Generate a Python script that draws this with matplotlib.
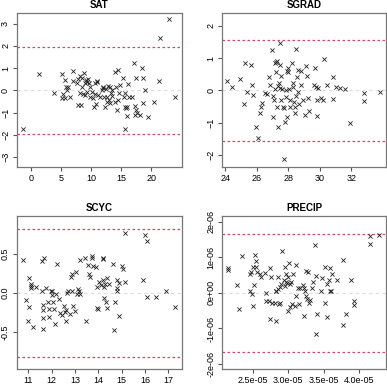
import numpy as np
import matplotlib.pyplot as plt
from matplotlib.ticker import FuncFormatter

plt.rcParams['font.family'] = ['Liberation Sans', 'DejaVu Sans']

# SAT residuals
sat_x = [-1.39, 1.28, 3.83, 5.11, 5.22, 5.67, 5.78, 6.94, 6.94, 6.22, 5.94, 6.5, 5.67, 5.39,
         7.72, 7.89, 8.17, 7.89, 8.28, 8.44, 8.83, 9.0, 9.17, 9.39, 9.56, 9.72, 9.83, 8.61,
         9.0, 8.17, 9.39, 10.11, 10.28, 10.67, 10.67, 10.94, 10.5, 10.83, 11.22, 11.5, 11.78,
         11.94, 12.06, 12.5, 12.61, 12.89, 13.06, 13.17, 13.28, 13.44, 13.17, 12.33, 12.72,
         14.0, 14.56, 14.17, 14.28, 14.56, 14.72, 14.0, 14.83, 15.39, 15.5, 15.67, 15.67,
         15.83, 16.06, 15.67, 15.94, 16.22, 16.39, 16.78, 17.17, 17.5, 17.33, 17.5, 17.61,
         17.28, 18.17, 18.44, 18.61, 18.61, 19.0, 19.39, 20.5, 21.22, 21.39, 22.89, 23.89,
         9.8, 11.0, 12.2, 13.5, 8.5]
sat_y = [-1.76, 0.74, -0.12, 0.74, -0.33, 0.47, 0.14, 0.89, 0.44, 0.14, 0.02, -0.29, -0.36, -0.17,
         0.32, 0.50, 0.65, -0.66, -0.66, 0.14, 0.80, 0.32, 0.47, 0.39, 0.50, 0.32, 0.14, -0.17,
         -0.21, -0.14, -0.06, -0.06, -0.36, -0.17, 0.32, 0.44, -0.77, -0.62, -0.21, -0.29, 0.02,
         0.14, 0.09, 0.05, -0.29, 0.20, -0.44, -0.59, -0.14, -0.26, 0.17, -0.74, -0.51,
         0.84, 0.92, 0.14, -0.89, -0.44, -0.14, -0.51, 0.24, 0.54, -0.32, -0.11, -0.74,
         -0.81, -0.74, -1.76, -1.16, 0.29, -0.29, -0.29, 1.22, 0.54, -0.71, -0.89, -1.04,
         -1.11, -1.11, 0.99, 0.54, -0.56, 0.02, -1.19, -0.51, 0.44, 2.35, 3.22, -0.32,
         -0.30, 0.38, -0.28, 0.02, 0.55]

# SGRAD residuals
sgrad_x = [24.13, 24.45, 24.91, 25.19, 25.23, 25.4, 25.66, 25.72, 25.76, 25.93, 26.08, 26.19,
           26.29, 26.36, 26.51, 26.65, 26.78, 26.87, 26.95, 27.04, 27.0, 27.1, 27.14, 27.14,
           27.21, 27.25, 27.29, 27.31, 27.35, 27.38, 27.42, 27.46, 27.5, 27.5, 27.57, 27.59,
           27.68, 27.72, 27.76, 27.8, 27.84, 27.88, 27.9, 27.94, 27.99, 28.01, 28.06, 28.1,
           28.27, 28.31, 28.35, 28.42, 28.46, 28.48, 28.52, 28.56, 28.59, 28.63, 28.69, 28.78,
           28.84, 28.95, 29.05, 29.12, 29.16, 29.27, 29.33, 29.63, 29.69, 29.75, 29.8, 29.84,
           29.86, 30.11, 30.18, 30.26, 30.48, 30.82, 30.86, 31.03, 31.28, 31.6, 31.92, 32.81,
           32.81, 33.83, 28.1, 28.31, 27.57]
sgrad_y = [0.29, 0.11, 0.36, -0.42, 0.84, -0.04, 0.77, 0.17, -0.14, -1.13, -1.49, -0.69,
           -0.51, -0.38, -0.07, -0.11, 0.40, 0.17, 1.25, -0.18, -0.84, -0.30, 0.03, 0.84,
           0.58, 0.89, 0.92, -0.51, -1.13, 0.13, 0.22, 0.06, 1.46, 0.79, 0.44, 0.03,
           -0.51, -0.56, -2.14, -0.97, 0.01, -0.20, 0.61, -0.82, 0.58, 0.68, 0.03, -0.30,
           0.86, 0.24, -0.35, -0.51, -0.71, -0.18, 1.27, 0.42, 0.63, -0.04, -0.42, 0.61,
           0.17, -0.30, -0.76, 0.75, 0.44, -0.25, -0.64, 0.17, 0.68, 0.09, -0.30, -0.80,
           0.06, -0.25, -0.30, 0.96, 0.17, 0.40, -0.28, 0.09, 0.06, 0.03, -1.0, -0.07,
           -0.32, -0.04, -0.51, 0.11, -0.30]

# SCYC residuals
scyc_x = [10.77, 10.89, 11.03, 11.03, 10.99, 11.09, 11.13, 11.09, 11.2, 11.34, 11.56, 11.56,
          11.66, 11.63, 11.63, 11.63, 11.63, 11.77, 11.85, 11.89, 11.89, 11.95, 11.99, 12.03,
          12.06, 12.09, 12.13, 12.17, 12.23, 12.32, 12.35, 12.46, 12.52, 12.56, 12.6, 12.63,
          12.66, 12.7, 12.78, 12.81, 12.85, 12.85, 12.92, 12.99, 13.03, 13.09, 13.13, 13.18,
          13.23, 13.23, 13.42, 13.46, 13.56, 13.6, 13.62, 13.71, 13.73, 13.78, 13.89, 13.92,
          13.95, 13.99, 14.03, 14.09, 14.18, 14.21, 14.21, 14.24, 14.24, 14.28, 14.32, 14.35,
          14.38, 14.47, 14.64, 14.67, 14.71, 14.78, 14.81, 14.81, 14.9, 14.9, 15.0, 15.04,
          15.14, 15.14, 15.93, 16.0, 16.07, 16.07, 16.47, 16.9, 17.29]
scyc_y = [0.42, -0.09, 0.19, -0.18, -0.36, 0.12, 0.09, 0.06, -0.43, 0.08, 0.03, 0.41,
          0.44, -0.15, -0.22, -0.32, -0.46, 0.06, -0.12, -0.21, -0.31, 0.03, 0.02, -0.03,
          -0.12, -0.21, -0.39, -0.01, 0.37, -0.08, -0.25, -0.28, -0.17, -0.24, -0.22, -0.36,
          0.00, 0.03, -0.27, 0.20, 0.24, 0.02, -0.17, -0.23, 0.27, -0.01, 0.05, 0.02,
          -0.01, 0.42, 0.45, -0.36, 0.36, 0.24, 0.20, 0.47, 0.45, 0.34, 0.33, 0.07,
          -0.19, -0.21, 0.14, 0.10, 0.45, 0.43, 0.16, 0.07, -0.06, 0.12, -0.12, -0.19,
          0.19, 0.11, 0.37, -0.47, -0.12, 0.16, 0.06, 0.03, -0.29, 0.13, 0.34, 0.31,
          0.14, 0.77, 0.16, 0.74, 0.66, -0.05, -0.05, 0.02, -0.18]

# PRECIP residuals (x in 1e-5, y in 1e-6)
precip_x = [2.146, 2.146, 2.278, 2.311, 2.349, 2.453, 2.462, 2.476, 2.491, 2.5, 2.5, 2.509,
            2.524, 2.538, 2.547, 2.557, 2.594, 2.618, 2.665, 2.679, 2.689, 2.726, 2.736, 2.745,
            2.759, 2.774, 2.807, 2.821, 2.821, 2.83, 2.854, 2.854, 2.868, 2.877, 2.887, 2.901,
            2.915, 2.934, 2.948, 2.948, 2.962, 2.972, 2.981, 2.995, 2.995, 3.009, 3.019, 3.028,
            3.042, 3.057, 3.066, 3.09, 3.104, 3.113, 3.137, 3.151, 3.17, 3.208, 3.217, 3.217,
            3.231, 3.245, 3.255, 3.264, 3.278, 3.292, 3.302, 3.34, 3.349, 3.373, 3.387, 3.396,
            3.406, 3.467, 3.481, 3.514, 3.514, 3.547, 3.547, 3.575, 3.585, 3.594, 3.608, 3.623,
            3.689, 3.774, 3.774, 3.821, 3.892, 3.925, 3.925, 4.151, 4.151, 4.283]
precip_y = [0.71, 0.64, 0.22, -0.46, 1.03, 0.06, 0.52, 0.60, -0.02, 0.73, -0.36, 0.21,
            1.08, 0.73, 0.90, 0.60, 0.54, 0.45, 0.57, 0.01, -0.22, -0.22, -0.74, 0.69,
            0.45, -0.27, -0.27, -0.80, 0.06, 0.04, 0.10, 0.45, -0.32, -0.27, 0.17, 0.26,
            1.18, 0.36, 0.73, 0.20, 0.32, 0.54, 0.29, -0.50, 0.45, 0.85, -0.39, 0.26,
            0.32, -0.30, 0.54, -0.36, 0.79, -0.08, 0.13, -0.32, 0.13, 0.22, 0.13, -0.64,
            0.06, -0.08, 0.62, -0.18, 0.60, -0.27, -0.21, 0.13, 0.32, 1.36, -1.16, 0.48,
            -0.58, 0.06, 0.41, 0.73, -0.27, -0.67, 0.26, 0.36, 0.06, 0.69, 0.04, 0.54,
            0.36, 0.93, -0.91, -0.58, 0.36, -0.24, -0.34, 1.38, 1.59, 1.63]


def r_sci(v, pos):
    # R style scientific labels like 1e-06, 0e+00
    if v == 0:
        return '0e+00'
    m, e = ('%e' % v).split('e')
    e = int(e)
    return '%de%s%02d' % (round(float(m)), '-' if e < 0 else '+', abs(e))


def r_sci1(v, pos):
    m, e = ('%.1e' % v).split('e')
    e = int(e)
    return '%se%s%02d' % (m, '-' if e < 0 else '+', abs(e))


fig = plt.figure(figsize=(3.87, 3.88), dpi=100)
boxes = [[0.044, 0.570, 0.426, 0.396], [0.574, 0.570, 0.423, 0.396],
         [0.044, 0.049, 0.426, 0.394], [0.574, 0.049, 0.423, 0.394]]

panels = [
    ('SAT', np.array(sat_x), np.array(sat_y), 1.96, (-2.3, 25.1), (-3.44, 3.47),
     [0, 5, 10, 15, 20], [-3, -2, -1, 0, 1, 2, 3], None, None),
    ('SGRAD', np.array(sgrad_x), np.array(sgrad_y), 1.56, (23.8, 34.2), (-2.37, 2.39),
     [24, 26, 28, 30, 32], [-2, -1, 0, 1, 2], None, None),
    ('SCYC', np.array(scyc_x), np.array(scyc_y), 0.82, (10.51, 17.58), (-0.97, 0.98),
     [11, 12, 13, 14, 15, 16, 17], [-0.5, 0.0, 0.5], None, '%.1f'),
    ('PRECIP', np.array(precip_x) * 1e-5, np.array(precip_y) * 1e-6, 1.65e-6,
     (2.066e-5, 4.377e-5), (-2.14e-6, 2.16e-6),
     [2.5e-5, 3.0e-5, 3.5e-5, 4.0e-5], [-2e-6, -1e-6, 0, 1e-6, 2e-6], r_sci1, r_sci),
]

for box, (name, x, y, lim, xl, yl, xt, yt, xf, yf) in zip(boxes, panels):
    ax = fig.add_axes(box)
    ax.axhline(0, color='#dddddd', ls=(0, (3, 3)), lw=0.8, zorder=1)
    ax.axhline(lim, color='#dd4466', ls=(0, (2, 2)), lw=0.9, zorder=1)
    ax.axhline(-lim, color='#dd4466', ls=(0, (2, 2)), lw=0.9, zorder=1)
    ax.scatter(x, y, marker='x', s=9, c='#222222', linewidths=0.6, zorder=3)
    ax.set_xlim(xl)
    ax.set_ylim(yl)
    ax.set_xticks(xt)
    ax.set_yticks(yt)
    if xf is not None:
        ax.xaxis.set_major_formatter(FuncFormatter(xf))
    if yf is not None:
        if isinstance(yf, str):
            ax.yaxis.set_major_formatter(FuncFormatter(lambda v, p, f=yf: f % v))
        else:
            ax.yaxis.set_major_formatter(FuncFormatter(yf))
    for s in ax.spines.values():
        s.set_color('#777777')
        s.set_linewidth(0.9)
    ax.tick_params(axis='both', length=3, width=0.8, color='#555555',
                   labelsize=6.5, pad=2)
    for lab in ax.get_yticklabels():
        lab.set_rotation(90)
        lab.set_va('center')
    ax.set_title(name, fontsize=7, fontweight='bold', pad=4)

fig.savefig('out.png', dpi=100)
